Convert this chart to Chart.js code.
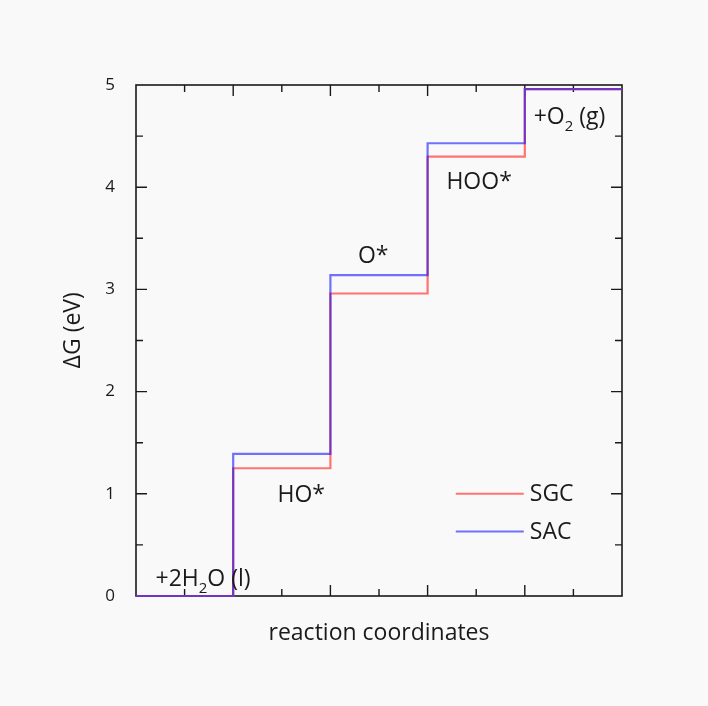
<!DOCTYPE html>
<html>
<head>
<meta charset="utf-8">
<script src="https://cdn.jsdelivr.net/npm/chart.js@4.4.1/dist/chart.umd.min.js"></script>
<style>
  html, body { margin: 0; padding: 0; background: #f9f9f9; }
  #wrap { width: 708px; height: 706px; }
</style>
</head>
<body>
<div id="wrap"><canvas id="energyChart" width="708" height="706"></canvas></div>
<script>
// reaction steps (x positions of the step edges)
const steps = [0, 1, 2, 3, 4, 5];
// free energy of each step, eV
const sgcValues = [0, 1.25, 2.96, 4.30, 4.96, 4.96];
const sacValues = [0, 1.39, 3.14, 4.43, 4.96, 4.96];
const yTicks = [0, 1, 2, 3, 4, 5];

// species labels: [text parts, x, y] — parts with sub:true are subscripts
const stepLabels = [
  [[{ t: "+2H" }, { t: "2", sub: true }, { t: "O (l)" }], 0.69, 0.10],
  [[{ t: "HO*" }], 1.70, 0.92],
  [[{ t: "O*" }], 2.44, 3.26],
  [[{ t: "HOO*" }], 3.53, 3.98],
  [[{ t: "+O" }, { t: "2", sub: true }, { t: " (g)" }], 4.46, 4.62],
];

const FONT = "'Open Sans', sans-serif";
const INK = "#1a1a1a";

const toPoints = (vals) => steps.map((x, i) => ({ x: x, y: vals[i] }));

// frame + inward ticks go under the curves, labels and legend on top
const framePlugin = {
  id: "frame",
  beforeDatasetsDraw(chart) {
    const { ctx, chartArea: a, scales } = chart;
    const xs = scales.x, ys = scales.y;
    ctx.save();
    ctx.strokeStyle = INK;
    ctx.lineWidth = 1.6;
    ctx.strokeRect(a.left, a.top, a.right - a.left, a.bottom - a.top);

    ctx.lineWidth = 1.4;
    for (let v = 0.5; v < 5; v += 0.5) {
      const len = Number.isInteger(v) ? 11 : 7;
      const px = xs.getPixelForValue(v);
      const py = ys.getPixelForValue(v);
      ctx.beginPath();
      ctx.moveTo(px, a.bottom); ctx.lineTo(px, a.bottom - len);
      ctx.moveTo(px, a.top); ctx.lineTo(px, a.top + len);
      ctx.moveTo(a.left, py); ctx.lineTo(a.left + len, py);
      ctx.moveTo(a.right, py); ctx.lineTo(a.right - len, py);
      ctx.stroke();
    }

    // y axis title, sits a bit above the middle like the original
    ctx.translate(a.left - 63, ys.getPixelForValue(2.6));
    ctx.rotate(-Math.PI / 2);
    ctx.font = "23px " + FONT;
    ctx.fillStyle = INK;
    ctx.textAlign = "center";
    ctx.textBaseline = "middle";
    ctx.fillText("ΔG (eV)", 0, 0);
    ctx.restore();
  },
  afterDatasetsDraw(chart) {
    const { ctx, scales } = chart;
    const xs = scales.x, ys = scales.y;
    ctx.save();
    ctx.fillStyle = INK;
    ctx.textBaseline = "alphabetic";
    ctx.textAlign = "left";
    const big = "23px " + FONT, small = "15px " + FONT;
    stepLabels.forEach(([parts, x, y]) => {
      let w = 0;
      parts.forEach(p => { ctx.font = p.sub ? small : big; w += ctx.measureText(p.t).width; });
      let cx = xs.getPixelForValue(x) - w / 2;
      const by = ys.getPixelForValue(y);
      parts.forEach(p => {
        ctx.font = p.sub ? small : big;
        ctx.fillText(p.t, cx, p.sub ? by + 7 : by);
        cx += ctx.measureText(p.t).width;
      });
    });

    // legend
    const lx = xs.getPixelForValue(3.29);
    chart.data.datasets.forEach((ds, i) => {
      const ly = ys.getPixelForValue(1.00 - i * 0.37);
      ctx.strokeStyle = ds.borderColor;
      ctx.lineWidth = 2;
      ctx.beginPath();
      ctx.moveTo(lx, ly); ctx.lineTo(lx + 68, ly);
      ctx.stroke();
      ctx.font = big;
      ctx.fillStyle = INK;
      ctx.textBaseline = "middle";
      ctx.fillText(ds.label, lx + 74, ly + 1);
    });
    ctx.restore();
  },
};

new Chart(document.getElementById("energyChart"), {
  type: "line",
  data: {
    datasets: [
      {
        label: "SGC",
        data: toPoints(sgcValues),
        borderColor: "#ff7373",
        borderWidth: 2.2,
        stepped: "before",
        pointRadius: 0,
        clip: false,
        order: 2,
      },
      {
        label: "SAC",
        data: toPoints(sacValues),
        borderColor: "rgba(0, 0, 255, 0.55)",
        borderWidth: 2.2,
        stepped: "before",
        pointRadius: 0,
        clip: false,
        order: 1,
      },
    ],
  },
  options: {
    responsive: false,
    animation: false,
    layout: { padding: { left: 0, top: 85, right: 86, bottom: 0 } },
    scales: {
      x: {
        type: "linear",
        min: 0,
        max: 5,
        grid: { display: false },
        border: { display: false },
        ticks: { display: false },
        title: {
          display: true,
          text: "reaction coordinates",
          color: INK,
          font: { family: FONT, size: 23 },
          padding: { top: 0, bottom: 59 },
        },
        afterFit: (s) => { s.height = 110; },
      },
      y: {
        min: 0,
        max: 5,
        grid: { display: false },
        border: { display: false },
        afterBuildTicks: (s) => { s.ticks = yTicks.map(v => ({ value: v })); },
        ticks: {
          color: INK,
          padding: 13,
          font: { family: FONT, size: 17 },
        },
        afterFit: (s) => { s.width = 136; },
      },
    },
    plugins: {
      legend: { display: false },
      tooltip: { enabled: false },
    },
  },
  plugins: [framePlugin],
});
</script>
</body>
</html>
